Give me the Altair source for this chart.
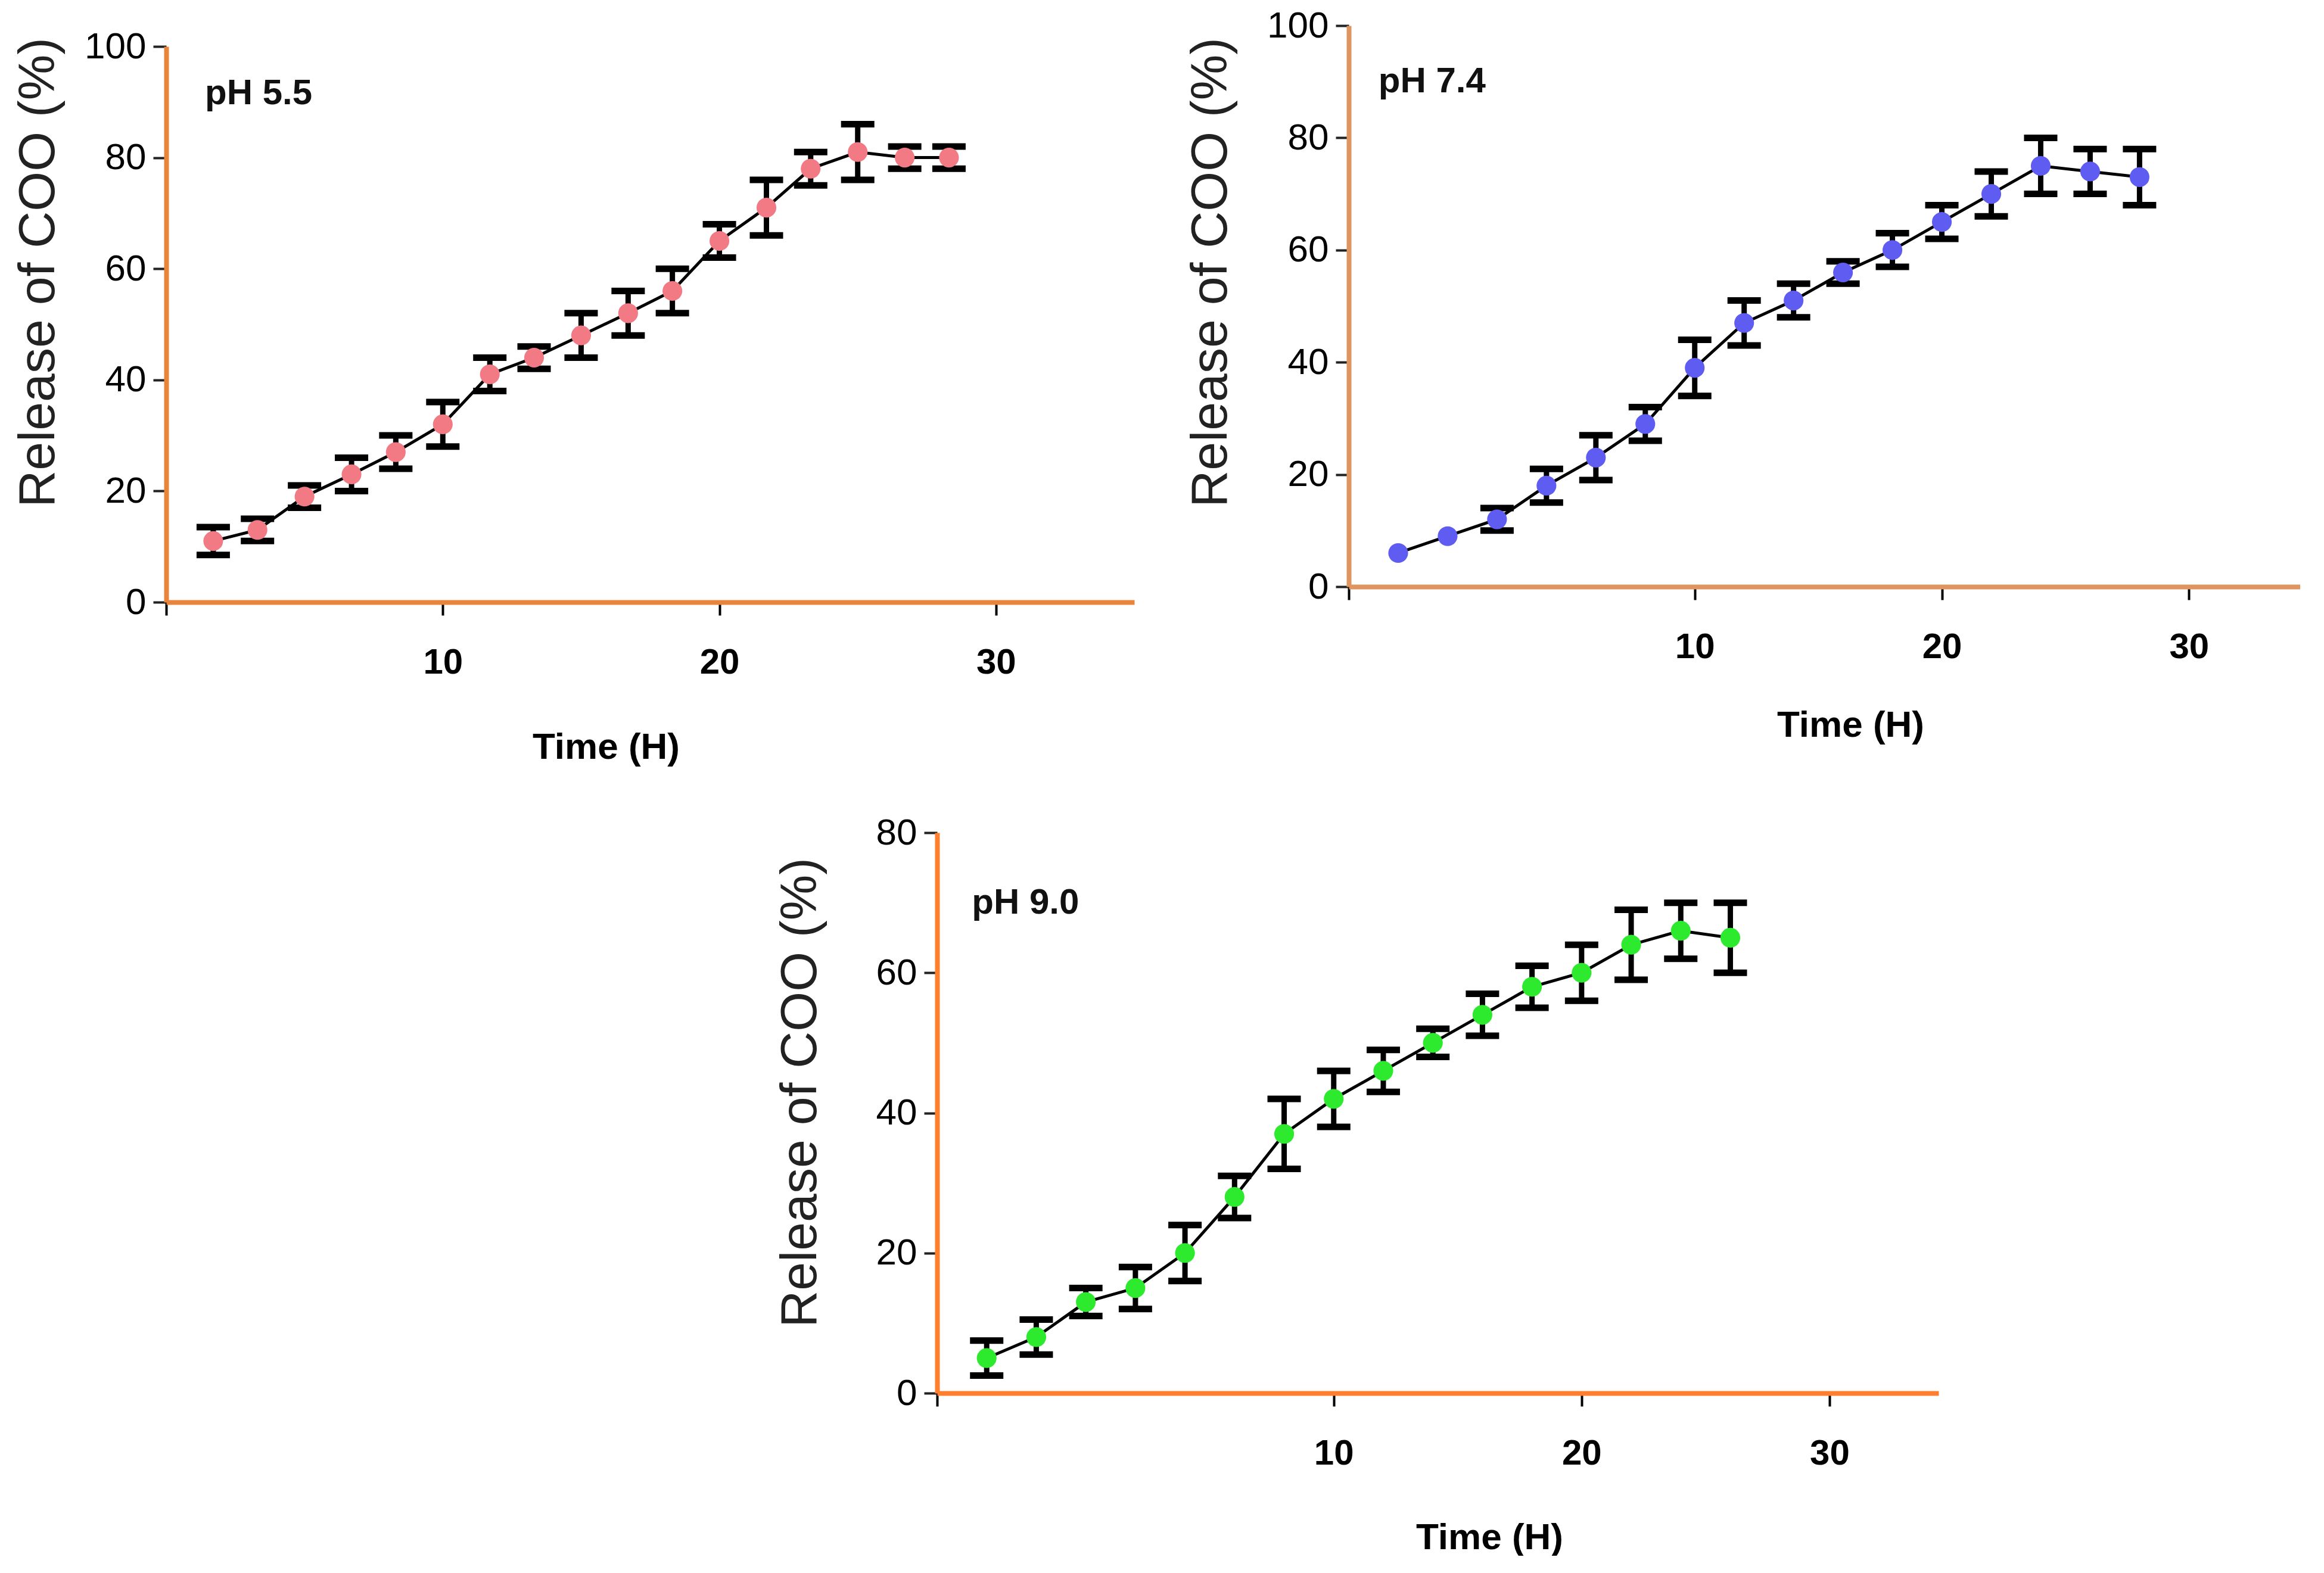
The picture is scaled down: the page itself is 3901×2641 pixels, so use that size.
import altair as alt
import pandas as pd

# pH 5.5
time_55 = [1.7, 3.3, 5.0, 6.7, 8.3, 10.0, 11.7, 13.3, 15.0, 16.7, 18.3, 20.0, 21.7, 23.3, 25.0, 26.7, 28.3]
rel_55 = [11, 13, 19, 23, 27, 32, 41, 44, 48, 52, 56, 65, 71, 78, 81, 80, 80]
err_55 = [2.5, 2, 2, 3, 3, 4, 3, 2, 4, 4, 4, 3, 5, 3, 5, 2, 2]

# pH 7.4
time_74 = [-2, 0, 2, 4, 6, 8, 10, 12, 14, 16, 18, 20, 22, 24, 26, 28]
rel_74 = [6, 9, 12, 18, 23, 29, 39, 47, 51, 56, 60, 65, 70, 75, 74, 73]
err_74 = [0, 0, 2, 3, 4, 3, 5, 4, 3, 2, 3, 3, 4, 5, 4, 5]

# pH 9.0
time_90 = [-4, -2, 0, 2, 4, 6, 8, 10, 12, 14, 16, 18, 20, 22, 24, 26]
rel_90 = [5, 8, 13, 15, 20, 28, 37, 42, 46, 50, 54, 58, 60, 64, 66, 65]
err_90 = [2.5, 2.5, 2, 3, 4, 3, 5, 4, 3, 2, 3, 3, 4, 5, 4, 5]

SANS = 'Liberation Sans'


def panel(times, rels, errs, label, color, axis_color, xdom, ymax, xticks,
          text_pos, size, ytitle_pos, xtitle_pos):
    df = pd.DataFrame({'t': times, 'r': rels, 'e': errs})
    base = alt.Chart(df).transform_calculate(
        lo='datum.r - datum.e', hi='datum.r + datum.e'
    )

    x = alt.X('t:Q',
              scale=alt.Scale(domain=xdom, nice=False, zero=False),
              axis=alt.Axis(values=xticks,
                            labelExpr=f"datum.value == {xdom[0]} ? '' : datum.label",
                            grid=False,
                            domainColor=axis_color, domainWidth=8,
                            tickColor='black', tickWidth=4, tickSize=22,
                            labelFont=SANS, labelFontSize=60, labelFontWeight='bold',
                            labelColor='black', labelPadding=50,
                            title='Time (H)', titleFont=SANS, titleFontSize=62,
                            titleFontWeight='bold', titleColor='black',
                            titleX=xtitle_pos[0], titleY=xtitle_pos[1],
                            titleBaseline='middle'))

    def yenc(field):
        return alt.Y(field,
                     scale=alt.Scale(domain=[0, ymax], nice=False),
                     axis=alt.Axis(values=list(range(0, ymax + 1, 20)),
                                   grid=False,
                                   domainColor=axis_color, domainWidth=8,
                                   tickColor='#222', tickWidth=4, tickSize=22,
                                   labelFont=SANS, labelFontSize=62,
                                   labelColor='black', labelPadding=12,
                                   title='Release of COO (%)', titleFont=SANS,
                                   titleFontSize=86, titleFontWeight='normal',
                                   titleColor='#222',
                                   titleX=ytitle_pos[0], titleY=ytitle_pos[1],
                                   titleBaseline='middle'))

    line = base.mark_line(color='black', strokeWidth=5).encode(x=x, y=yenc('r:Q'))
    bars = base.transform_filter('datum.e > 0').mark_rule(
        color='black', strokeWidth=9
    ).encode(x=x, y=yenc('lo:Q'), y2='hi:Q')
    caps = base.transform_filter('datum.e > 0').transform_fold(
        ['lo', 'hi'], as_=['end', 'v']
    ).mark_tick(color='black', orient='horizontal', size=56, thickness=11,
                opacity=1).encode(x=x, y=yenc('v:Q'))
    pts = base.mark_point(filled=True, shape='circle', size=1100, opacity=1,
                          color=color).encode(x=x, y=yenc('r:Q'))

    txt = alt.Chart(pd.DataFrame({'t': [text_pos[0]], 'r': [text_pos[1]],
                                  'lab': [label]})).mark_text(
        align='left', baseline='middle', font=SANS, fontSize=60,
        fontWeight='bold', color='#111'
    ).encode(x=x, y=yenc('r:Q'), text='lab:N')

    return alt.layer(line, bars, caps, pts, txt).properties(
        width=size[0], height=size[1]
    )


def blank(w, h):
    return alt.Chart(pd.DataFrame({'v': [0]})).mark_point(opacity=0).encode(
        x=alt.X('v:Q', axis=None), y=alt.Y('v:Q', axis=None)
    ).properties(width=w, height=h)


p1 = panel(time_55, rel_55, err_55, 'pH 5.5', '#F27A85', '#E8853A',
           [0, 35], 100, [0, 10, 20, 30], (1.4, 91.5), (1625, 933),
           (-215, 379), (738, 243))
p2 = panel(time_74, rel_74, err_74, 'pH 7.4', '#5F5CF2', '#DE9560',
           [-4, 34.5], 100, [-4, 10, 20, 30], (-2.8, 90), (1597, 942),
           (-232, 414), (842, 232))
p3 = panel(time_90, rel_90, err_90, 'pH 9.0', '#2EEA2E', '#FF7F2E',
           [-6, 34.4], 80, [-6, 10, 20, 30], (-4.6, 70), (1681, 941),
           (-230, 436), (927, 242))

# the left panel sits a little lower than the right one
row1 = alt.hconcat(alt.vconcat(blank(10, 1), p1, spacing=0), p2, spacing=84)
row2 = alt.hconcat(blank(1020, 50), p3, spacing=0)

chart = alt.vconcat(row1, row2, spacing=82).properties(
    padding={'left': 12, 'top': 4, 'right': 0, 'bottom': 0},
    background='white'
).configure_view(strokeWidth=0)

chart.save('out.html', embed_options={'renderer': 'svg', 'actions': False})
